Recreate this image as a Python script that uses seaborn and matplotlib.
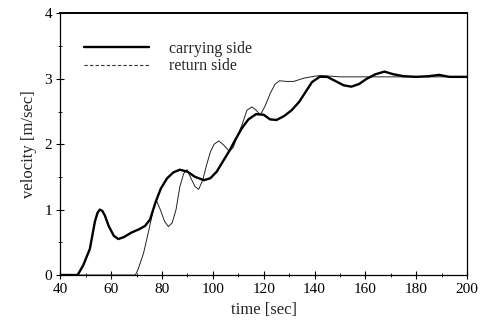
import matplotlib
matplotlib.use("Agg")
import matplotlib.pyplot as plt
from matplotlib.lines import Line2D
from matplotlib.ticker import MultipleLocator
import pandas as pd
import seaborn as sns

# Belt velocity on both sides of the conveyor during start-up
carrying_t = [40, 46.8, 49, 51.6, 53.6, 54.6, 55.5, 56.5, 57.5, 59, 61, 62.8, 65,
              68, 71, 73.3, 75.3, 77.5, 79.5, 82, 84.5, 87, 90, 93, 96.5, 99,
              101.5, 104, 106.5, 109, 111.5, 114, 117, 120, 122.5, 125, 128, 131,
              134, 136.5, 139, 142, 145, 148, 151.5, 154.5, 157.5, 160.5, 164,
              167.5, 171, 175, 180, 185, 189, 193, 200]
carrying_v = [0, 0, 0.15, 0.40, 0.82, 0.95, 1.00, 0.98, 0.91, 0.75, 0.60, 0.55,
              0.58, 0.65, 0.70, 0.75, 0.85, 1.12, 1.32, 1.48, 1.57, 1.61, 1.58,
              1.50, 1.45, 1.48, 1.58, 1.74, 1.90, 2.08, 2.25, 2.38, 2.46, 2.45,
              2.38, 2.37, 2.43, 2.52, 2.65, 2.80, 2.95, 3.03, 3.03, 2.97, 2.90,
              2.88, 2.92, 3.00, 3.07, 3.11, 3.07, 3.04, 3.03, 3.04, 3.06, 3.03,
              3.03]

return_t = [40, 69.5, 70.5, 72.7, 75, 76.8, 77.9, 79.5, 81, 82.5, 84, 85.5, 87,
            88.5, 89.8, 91.5, 93, 94.4, 96, 97.5, 99, 100.5, 102.3, 104.2, 106.5,
            108, 109.5, 111.5, 113.4, 115.4, 117, 118.7, 120.5, 122.6, 124.5,
            126.2, 129, 131.8, 135.8, 140, 142.4, 150, 200]
return_v = [0, 0, 0.08, 0.33, 0.72, 1.05, 1.13, 0.98, 0.82, 0.74, 0.80, 1.00,
            1.35, 1.55, 1.61, 1.47, 1.35, 1.31, 1.45, 1.68, 1.88, 2.00, 2.05,
            1.99, 1.89, 1.95, 2.11, 2.30, 2.52, 2.57, 2.52, 2.45, 2.58, 2.78,
            2.92, 2.97, 2.96, 2.96, 3.01, 3.04, 3.05, 3.03, 3.03]

series_names = ["carrying side", "return side"]
x_label = "time [sec]"
y_label = "velocity [m/sec]"

sns.set_style("ticks")
plt.rcParams["font.family"] = ["Liberation Serif", "DejaVu Serif"]

carrying = pd.DataFrame({"t": carrying_t, "v": carrying_v})
returning = pd.DataFrame({"t": return_t, "v": return_v})

fig = plt.figure(figsize=(4.87, 3.27), dpi=100)
ax = fig.add_axes([0.124, 0.159, 0.835, 0.800])

sns.lineplot(data=returning, x="t", y="v", ax=ax, color="#222222",
             linewidth=0.7, estimator=None, sort=False)
sns.lineplot(data=carrying, x="t", y="v", ax=ax, color="black",
             linewidth=1.7, estimator=None, sort=False)

ax.set_xlim(40, 200)
ax.set_ylim(0, 4)
ax.xaxis.set_major_locator(MultipleLocator(20))
ax.xaxis.set_minor_locator(MultipleLocator(10))
ax.yaxis.set_major_locator(MultipleLocator(1))
ax.yaxis.set_minor_locator(MultipleLocator(0.5))
ax.tick_params(which="major", direction="inout", length=6, width=0.8,
               labelsize=11, colors="black", pad=3)
ax.tick_params(which="minor", direction="inout", length=3.5, width=0.7)

for side in ["top", "right", "bottom", "left"]:
    ax.spines[side].set_visible(True)
    ax.spines[side].set_color("black")
    ax.spines[side].set_linewidth(0.9)
ax.spines["top"].set_linewidth(1.4)

ax.set_xlabel(x_label, fontsize=12, labelpad=4)
ax.set_ylabel(y_label, fontsize=12, labelpad=5)

handles = [Line2D([], [], color="black", linewidth=1.7, linestyle="-"),
           Line2D([], [], color="#333333", linewidth=0.8, linestyle=(0, (3, 2)))]
ax.legend(handles, series_names, loc="upper left", bbox_to_anchor=(0.042, 0.92),
          frameon=False, fontsize=11.5, handlelength=4.1, handletextpad=1.25,
          labelspacing=0.1, borderaxespad=0)

fig.savefig("out.png", dpi=100)
